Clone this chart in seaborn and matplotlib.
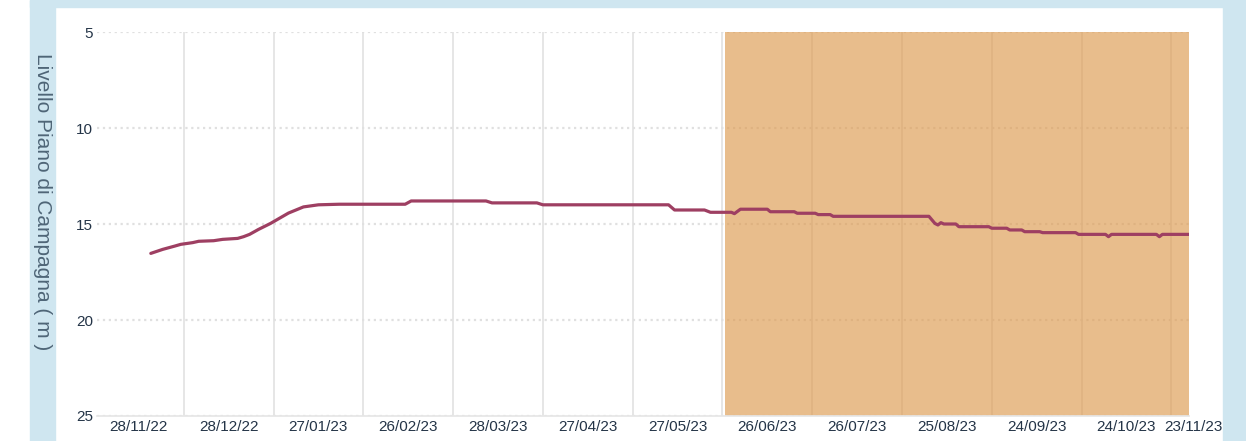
import matplotlib
matplotlib.use("Agg")
import matplotlib.pyplot as plt
import matplotlib.patches as mpatches
import matplotlib.dates as mdates
import seaborn as sns
import pandas as pd

# breakpoints of the level series (m below ground level)
dates = ["2022-12-02", "2022-12-06", "2022-12-10", "2022-12-12", "2022-12-16",
         "2022-12-18", "2022-12-23", "2022-12-26", "2022-12-31", "2023-01-02",
         "2023-01-04", "2023-01-07", "2023-01-11", "2023-01-17", "2023-01-22",
         "2023-01-27", "2023-02-03", "2023-02-25", "2023-02-27", "2023-03-24",
         "2023-03-26", "2023-04-10", "2023-04-12", "2023-05-24", "2023-05-26",
         "2023-06-05", "2023-06-07", "2023-06-14", "2023-06-15", "2023-06-17",
         "2023-06-26", "2023-06-27", "2023-07-05", "2023-07-06", "2023-07-12",
         "2023-07-13", "2023-07-17", "2023-07-18", "2023-08-19", "2023-08-21",
         "2023-08-22", "2023-08-23", "2023-08-24", "2023-08-28", "2023-08-29",
         "2023-09-08", "2023-09-09", "2023-09-14", "2023-09-15", "2023-09-19",
         "2023-09-20", "2023-09-25", "2023-09-26", "2023-10-07", "2023-10-08",
         "2023-10-17", "2023-10-18", "2023-10-19", "2023-11-03", "2023-11-04",
         "2023-11-05", "2023-11-14"]
levels = [16.53, 16.32, 16.15, 16.06, 15.97,
          15.90, 15.87, 15.80, 15.75, 15.66,
          15.54, 15.28, 14.97, 14.43, 14.11,
          14.00, 13.97, 13.97, 13.80, 13.80,
          13.90, 13.90, 14.00, 14.00, 14.27,
          14.27, 14.39, 14.39, 14.46, 14.23,
          14.23, 14.36, 14.36, 14.44, 14.44,
          14.51, 14.51, 14.60, 14.60, 14.97,
          15.05, 14.93, 15.00, 15.00, 15.14,
          15.14, 15.22, 15.22, 15.31, 15.31,
          15.40, 15.40, 15.45, 15.45, 15.54,
          15.54, 15.66, 15.54, 15.54, 15.66,
          15.54, 15.54]

tick_labels = ["28/11/22", "28/12/22", "27/01/23", "26/02/23", "28/03/23",
               "27/04/23", "27/05/23", "26/06/23", "26/07/23", "25/08/23",
               "24/09/23", "24/10/23"]
last_label = "23/11/23"  # sits past the end of the axis
grid_dates = ["2022-12-13", "2023-01-12", "2023-02-11", "2023-03-13", "2023-04-12",
              "2023-05-12", "2023-06-11", "2023-07-11", "2023-08-10", "2023-09-09",
              "2023-10-09", "2023-11-08"]
y_ticks = [5, 10, 15, 20, 25]
x_range = ["2022-11-14", "2023-11-14"]
shade_range = ["2023-06-12", "2023-11-14"]

df = pd.DataFrame({"data": pd.to_datetime(dates), "livello": levels})

sns.set_theme(style="white")
plt.rcParams["font.family"] = ["Liberation Sans", "DejaVu Sans"]

fig = plt.figure(figsize=(12.46, 4.41), dpi=100)
ax = fig.add_axes([0.0778, 0.0567, 0.8767, 0.8707])

ax.axvspan(pd.Timestamp(shade_range[0]), pd.Timestamp(shade_range[1]),
           color="#dd9a4f", alpha=0.65, lw=0, zorder=1)
sns.lineplot(data=df, x="data", y="livello", ax=ax, color="#9e3f62",
             linewidth=2.3, zorder=3)

ax.set_yticks(y_ticks)
ax.set_xticks(pd.to_datetime(tick_labels, format="%d/%m/%y"))
ax.set_xticklabels(tick_labels)
ax.set_xticks(pd.to_datetime(grid_dates), minor=True)
ax.set_xlim(pd.Timestamp(x_range[0]), pd.Timestamp(x_range[1]))
ax.set_ylim(25, 5)

tick_color = "#243447"
# last label is pushed left so it stays inside the white panel
last_x = mdates.date2num(pd.to_datetime(last_label, format="%d/%m/%y"))
ax.annotate(last_label, xy=(last_x, 0),
            xycoords=ax.get_xaxis_transform(), xytext=(4.5, -3),
            textcoords="offset points", ha="right", va="top",
            fontsize=11, color=tick_color, annotation_clip=False)

ax.set_axisbelow(True)
ax.grid(False)
ax.grid(axis="x", which="minor", color="#e4e4e4", linewidth=1.3)
ax.grid(axis="y", which="major", color="#e0e0e0", linestyle=":", linewidth=1.6)
ax.tick_params(axis="both", which="both", length=0, labelsize=11,
               colors=tick_color, pad=3)
for side in ["top", "left", "right"]:
    ax.spines[side].set_visible(False)
ax.spines["bottom"].set_color("#e6e6e6")
ax.set_xlabel("")
ax.set_ylabel("")

# frame of the page around the chart
blue = "#cfe6f0"
fig.patches.append(mpatches.Rectangle((30 / 1246, 0), 25 / 1246, 1, color=blue,
                                      transform=fig.transFigure, zorder=5))
fig.patches.append(mpatches.Rectangle((30 / 1246, 1 - 7 / 441), 1, 7 / 441, color=blue,
                                      transform=fig.transFigure, zorder=5))
fig.patches.append(mpatches.Rectangle((1223 / 1246, 0), 23 / 1246, 1, color=blue,
                                      transform=fig.transFigure, zorder=5))

fig.text(42 / 1246, 1 - 202 / 441, "Livello Piano di Campagna ( m )", rotation=270,
         ha="center", va="center", fontsize=15, color="#4f6577", zorder=6)

fig.savefig("out.png", dpi=100)
